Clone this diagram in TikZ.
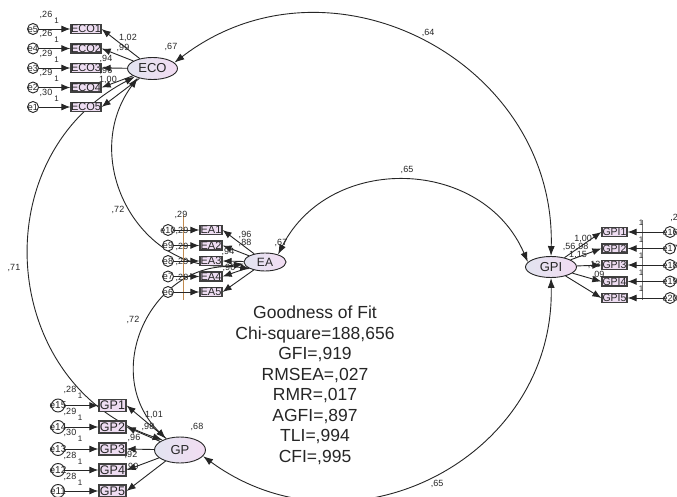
\documentclass[tikz,border=0pt]{standalone}
\usepackage{fontspec}
\setmainfont{Liberation Sans}
\usetikzlibrary{arrows.meta,shapes.geometric}
\definecolor{latL}{HTML}{E2E4F0}
\definecolor{latR}{HTML}{F2DCF2}
\definecolor{boxF}{HTML}{EEDDF2}
\definecolor{boxD}{HTML}{404040}
\definecolor{txt}{HTML}{262626}
\definecolor{tick}{HTML}{C08A50}
\begin{document}
\begin{tikzpicture}[x=1pt,y=-1pt,
  lat/.style={ellipse, draw=black!85, line width=0.9pt, left color=latL, right color=latR, inner sep=0pt, text=txt, font=\fontsize{13}{13}\selectfont},
  obs/.style={rectangle, draw=boxD, line width=1.3pt, fill=boxF, inner sep=0pt, text=txt, font=\fontsize{11}{11}\selectfont},
  err/.style={circle, draw=black!85, line width=0.9pt, fill=white, inner sep=0pt, minimum size=#1, text=txt, font=\fontsize{9}{9}\selectfont},
  err/.default=11pt,
  arr/.style={-{Latex[length=9pt,width=7pt]}, line width=0.9pt, draw=black!85},
  cov/.style={{Latex[length=10pt,width=7pt]}-{Latex[length=10pt,width=7pt]}, line width=0.9pt, draw=black!85},
  lab/.style={inner sep=0pt, text=txt, font=\fontsize{9}{9}\selectfont},
  onelab/.style={inner sep=0pt, text=txt, font=\fontsize{8}{8}\selectfont}]
\useasboundingbox (0,0) rectangle (677,497);
\clip (0,0) rectangle (677,497);
\fill[white] (0,0) rectangle (677,497);

% latent variables
\node[lat, minimum width=50pt, minimum height=22pt] (ECO) at (152.5,68.5) {ECO};
\node[lat, minimum width=42pt, minimum height=18pt, font=\fontsize{12}{12}\selectfont] (EA) at (265,262) {EA};
\node[lat, minimum width=51pt, minimum height=21pt] (GPI) at (551,267) {GPI};
\node[lat, minimum width=51pt, minimum height=26pt] (GP) at (180,450) {GP};

% covariances
\draw[cov] (ECO.15) .. controls +(155,-119) and +(5,-195) .. (GPI.north);
\draw[cov] (EA.30) .. controls +(52,-102) and +(-45,-105) .. (GPI.168);
\draw[cov] (GP.-15) .. controls +(146,107) and +(4,181) .. (GPI.south);
\draw[cov] (ECO.212) .. controls +(-61,83) and +(-102,14) .. (EA.185);
\draw[cov] (ECO.205) .. controls +(-153,80) and +(-164,-55) .. (GP.150);
\draw[cov] (EA.205) .. controls +(-95,-14) and +(-69,-68) .. (GP.141);

\node[lab] (c1) at (428,33) {,64};
\node[lab] (c2) at (407,170) {,65};
\node[lab] (c3) at (118,210) {,72};
\node[lab] (c4) at (14,268) {,71};
\node[lab] (c5) at (133,320) {,72};
\node[lab] (c6) at (437,484) {,65};

% variances of latents
\node[lab] (vECO) at (171,47) {,67};
\node[lab] (vEA) at (281,243) {,67};
\node[lab] (vGP) at (197,427) {,68};
\node[lab] (vGPI) at (569,247) {,56};

% ---------- ECO block ----------
\node[obs, minimum width=30pt, minimum height=9pt] (co1) at (86,29) {ECO1};
\node[obs, minimum width=30pt, minimum height=9pt] (co2) at (86,48.5) {ECO2};
\node[obs, minimum width=30pt, minimum height=9pt] (co3) at (86,68) {ECO3};
\node[obs, minimum width=30pt, minimum height=9pt] (co4) at (86,87.5) {ECO4};
\node[obs, minimum width=30pt, minimum height=9pt] (co5) at (86,107) {ECO5};
\node[err] (e5) at (33,29) {\makebox[0pt]{e5}};
\node[err] (e4) at (33,48.5) {\makebox[0pt]{e4}};
\node[err] (e3) at (33,68) {\makebox[0pt]{e3}};
\node[err] (e2) at (33,87.5) {\makebox[0pt]{e2}};
\node[err] (e1) at (33,107) {\makebox[0pt]{e1}};
\draw[arr] (e5) -- (co1);
\draw[arr] (e4) -- (co2);
\draw[arr] (e3) -- (co3);
\draw[arr] (e2) -- (co4);
\draw[arr] (e1) -- (co5);
\draw[arr] (ECO) -- (co1.east);
\draw[arr] (ECO) -- (co2.east);
\draw[arr] (ECO) -- (co3.east);
\draw[arr] (ECO) -- (co4.east);
\draw[arr] (ECO) -- (co5.east);
\node[lab] (ve5) at (46,15) {,26};
\node[lab] (ve4) at (46,34) {,26};
\node[lab] (ve3) at (46,54) {,29};
\node[lab] (ve2) at (46,73) {,29};
\node[lab] (ve1) at (46,93) {,30};
\node[onelab] (o5) at (56.5,21) {1};
\node[onelab] (o4) at (56.5,40) {1};
\node[onelab] (o3) at (56.5,60) {1};
\node[onelab] (o2) at (56.5,79) {1};
\node[onelab] (o1) at (56.5,99) {1};
\node[lab] (l1) at (128,38) {1,02};
\node[lab] (l2) at (123,48) {,99};
\node[lab] (l3) at (106,59) {,94};
\node[lab] (l4) at (106,71) {,96};
\node[lab] (l5) at (108,80) {1,00};

% ---------- EA block ----------
\draw[tick, line width=0.6pt] (183,215) -- (183,300);
\node[obs, minimum width=22pt, minimum height=9pt] (ea1) at (211,230) {EA1};
\node[obs, minimum width=22pt, minimum height=9pt] (ea2) at (211,245.5) {EA2};
\node[obs, minimum width=22pt, minimum height=9pt] (ea3) at (211,261) {EA3};
\node[obs, minimum width=22pt, minimum height=9pt] (ea4) at (211,276.5) {EA4};
\node[obs, minimum width=22pt, minimum height=9pt] (ea5) at (211,292) {EA5};
\node[err] (e10) at (168,230) {\makebox[0pt]{e10}};
\node[err] (e9) at (168,245.5) {\makebox[0pt]{e9}};
\node[err] (e8) at (168,261) {\makebox[0pt]{e8}};
\node[err] (e7) at (168,276.5) {\makebox[0pt]{e7}};
\node[err] (e6) at (168,292) {\makebox[0pt]{e6}};
\draw[arr] (e10) -- (ea1);
\draw[arr] (e9) -- (ea2);
\draw[arr] (e8) -- (ea3);
\draw[arr] (e7) -- (ea4);
\draw[arr] (e6) -- (ea5);
\draw[arr] (EA) -- (ea1.east);
\draw[arr] (EA) -- (ea2.east);
\draw[arr] (EA) -- (ea3.east);
\draw[arr] (EA) -- (ea4.east);
\draw[arr] (EA) -- (ea5.east);
\node[lab] (ve10) at (181,215) {,29};
\node[lab] (ve9) at (182,231) {,29};
\node[lab] (ve8) at (182,246.5) {,29};
\node[lab] (ve7) at (182,262) {,29};
\node[lab] (ve6) at (182,277.5) {,28};
\node[lab] (m1) at (245,235) {,96};
\node[lab] (m2) at (245,243) {,88};
\node[lab] (m3) at (228,252) {,94};
\node[lab] (m4) at (229,268) {,90};

% ---------- GPI block ----------
\draw[black!55, line width=0.5pt] (642,220) -- (642,300);
\node[obs, minimum width=25pt, minimum height=9pt, font=\fontsize{10.5}{10.5}\selectfont] (gpi1) at (614.5,232) {GPI1};
\node[obs, minimum width=25pt, minimum height=9pt, font=\fontsize{10.5}{10.5}\selectfont] (gpi2) at (614.5,248.5) {GPI2};
\node[obs, minimum width=25pt, minimum height=9pt, font=\fontsize{10.5}{10.5}\selectfont] (gpi3) at (614.5,265) {GPI3};
\node[obs, minimum width=25pt, minimum height=9pt, font=\fontsize{10.5}{10.5}\selectfont] (gpi4) at (614.5,281.5) {GPI4};
\node[obs, minimum width=25pt, minimum height=9pt, font=\fontsize{10.5}{10.5}\selectfont] (gpi5) at (614.5,298) {GPI5};
\node[err] (e16) at (670,232) {\makebox[0pt]{e16}};
\node[err] (e17) at (670,248.5) {\makebox[0pt]{e17}};
\node[err] (e18) at (670,265) {\makebox[0pt]{e18}};
\node[err] (e19) at (670,281.5) {\makebox[0pt]{e19}};
\node[err] (e20) at (670,298) {\makebox[0pt]{e20}};
\draw[arr] (e16) -- (gpi1);
\draw[arr] (e17) -- (gpi2);
\draw[arr] (e18) -- (gpi3);
\draw[arr] (e19) -- (gpi4);
\draw[arr] (e20) -- (gpi5);
\draw[arr] (GPI) -- (gpi1.west);
\draw[arr] (GPI) -- (gpi2.west);
\draw[arr] (GPI) -- (gpi3.west);
\draw[arr] (GPI) -- (gpi4.west);
\draw[arr] (GPI) -- (gpi5.west);
\node[onelab] (p1) at (641,223) {1};
\node[onelab] (p2) at (641,239.5) {1};
\node[onelab] (p3) at (641,256) {1};
\node[onelab] (p4) at (641,272.5) {1};
\node[onelab] (p5) at (641,289) {1};
\node[lab] (ve16) at (674,218) {,2};
\node[lab] (n1) at (583,239) {1,00};
\node[lab] (n2) at (582,247) {,98};
\node[lab] (n3) at (578,255) {1,15};
\node[lab] (n4) at (594,265) {,13};
\node[lab] (n5) at (598,275) {,09};

% ---------- GP block ----------
\node[obs, minimum width=27pt, minimum height=12pt, font=\fontsize{12.5}{12.5}\selectfont] (gp1) at (112.5,405.5) {GP1};
\node[obs, minimum width=27pt, minimum height=12pt, font=\fontsize{12.5}{12.5}\selectfont] (gp2) at (112.5,427) {GP2};
\node[obs, minimum width=27pt, minimum height=12pt, font=\fontsize{12.5}{12.5}\selectfont] (gp3) at (112.5,449) {GP3};
\node[obs, minimum width=27pt, minimum height=12pt, font=\fontsize{12.5}{12.5}\selectfont] (gp4) at (112.5,470) {GP4};
\node[obs, minimum width=27pt, minimum height=12pt, font=\fontsize{12.5}{12.5}\selectfont] (gp5) at (112.5,491) {GP5};
\node[err=13pt, font=\fontsize{10}{10}\selectfont] (e15) at (58,405.5) {\makebox[0pt]{e15}};
\node[err=13pt, font=\fontsize{10}{10}\selectfont] (e14) at (58,427) {\makebox[0pt]{e14}};
\node[err=13pt, font=\fontsize{10}{10}\selectfont] (e13) at (58,449) {\makebox[0pt]{e13}};
\node[err=13pt, font=\fontsize{10}{10}\selectfont] (e12) at (58,470) {\makebox[0pt]{e12}};
\node[err=13pt, font=\fontsize{10}{10}\selectfont] (e11) at (58,491) {\makebox[0pt]{e11}};
\draw[arr] (e15) -- (gp1);
\draw[arr] (e14) -- (gp2);
\draw[arr] (e13) -- (gp3);
\draw[arr] (e12) -- (gp4);
\draw[arr] (e11) -- (gp5);
\draw[arr] (GP) -- (gp1.east);
\draw[arr] (GP) -- (gp2.east);
\draw[arr] (GP) -- (gp3.east);
\draw[arr] (GP) -- (gp4.east);
\draw[arr] (GP) -- (gp5.east);
\node[lab] (ve15) at (70,390) {,28};
\node[lab] (ve14) at (70,412) {,29};
\node[lab] (ve13) at (70,433) {,30};
\node[lab] (ve12) at (70,456) {,28};
\node[lab] (ve11) at (70,477) {,28};
\node[onelab] (q5) at (80,396) {1};
\node[onelab] (q4) at (80,418) {1};
\node[onelab] (q3) at (80,439) {1};
\node[onelab] (q2) at (80,462) {1};
\node[onelab] (q1) at (80,483) {1};
\node[lab] (k1) at (154,415) {1,01};
\node[lab] (k2) at (148,427) {,98};
\node[lab] (k3) at (134,438) {,96};
\node[lab] (k4) at (131,455) {,92};
\node[lab] (k5) at (132,467) {,90};

% fit statistics
\node[inner sep=0pt, align=center, text=txt, font=\fontsize{17.5}{20.5}\selectfont] (fit) at (315,385.5)
  {Goodness of Fit\\Chi-square=188,656\\GFI=,919\\RMSEA=,027\\RMR=,017\\AGFI=,897\\TLI=,994\\CFI=,995};
\end{tikzpicture}
\end{document}
